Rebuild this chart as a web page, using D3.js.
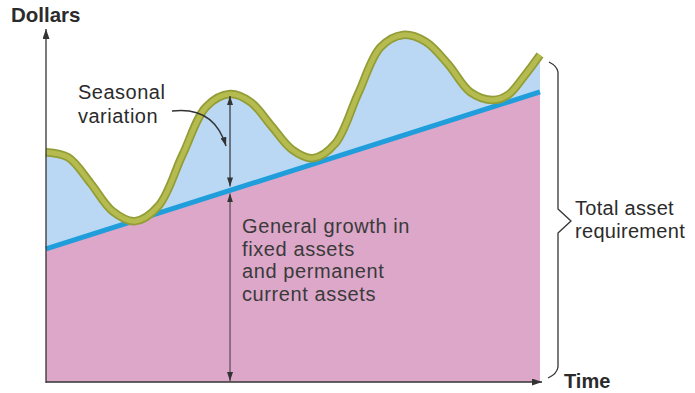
<!DOCTYPE html>
<html>
<head>
<meta charset="utf-8">
<script src="https://cdn.jsdelivr.net/npm/d3@7/dist/d3.min.js"></script>
<style>
  html, body { margin: 0; padding: 0; background: #ffffff; }
  svg { display: block; }
  text { font-family: "Liberation Sans", Arial, Helvetica, sans-serif; }
</style>
</head>
<body>
<svg id="chart" width="695" height="393"></svg>
<script>
// ---- data (time 0-100, dollars 0-100) ----
const time = [0, 4.50, 9.01, 13.51, 18.02,
              22.82, 27.63, 32.44, 37.25,
              41.45, 45.65, 49.85, 54.05,
              58.60, 63.16, 67.71, 72.27,
              76.82, 81.38, 85.93, 90.49,
              93.66, 96.82, 100];
const totalAssets = [65.3, 63.8, 56.5, 48.5, 45.7,
                     50.1, 64.5, 78.2, 81.8,
                     79.5, 72.7, 66.0, 63.6,
                     67.8, 81.8, 95.1, 98.6,
                     96.7, 90.3, 82.3, 80.1,
                     81.7, 86.9, 92.9];
const trendTime = [0, 100];
const permanentAssets = [37.8, 82.4];
const annotationTime = 37.25;   // seasonal peak used for the double arrows

const axisLabels = { y: "Dollars", x: "Time" };
const seasonalLabel = ["Seasonal", "variation"];
const growthLabel = ["General growth in", "fixed assets", "and permanent", "current assets"];
const totalLabel = ["Total asset", "requirement"];

// ---- layout ----
const svg = d3.select("#chart");
const x = d3.scaleLinear().domain([0, 100]).range([46, 540]);
const y = d3.scaleLinear().domain([0, 100]).range([382, 30]);
const trendAt = d3.scaleLinear().domain(trendTime).range(permanentAssets);

const wave = time.map((t, i) => ({ t, v: totalAssets[i] }));
const trend = trendTime.map((t, i) => ({ t, v: permanentAssets[i] }));

const ink = "#2b2b2b";
const curve = d3.curveCatmullRom.alpha(0.5);

// markers
const defs = svg.append("defs");
function marker(id, color, w, h) {
  defs.append("marker")
    .attr("id", id).attr("viewBox", `0 0 ${h} ${w}`)
    .attr("refX", h).attr("refY", w / 2)
    .attr("markerWidth", h).attr("markerHeight", w)
    .attr("markerUnits", "userSpaceOnUse")
    .attr("orient", "auto-start-reverse")
    .append("path").attr("d", `M0,0L${h},${w / 2}L0,${w}Z`).attr("fill", color);
}
marker("arr", "#333", 7, 10);
marker("arrSmall", "#333", 6, 9);

// seasonal (blue) area: wave down to baseline
svg.append("path").datum(wave)
  .attr("d", d3.area().x(d => x(d.t)).y0(y(0)).y1(d => y(d.v)).curve(curve))
  .attr("fill", "#bad8f4");

// permanent (pink) area
svg.append("path").datum(trend)
  .attr("d", d3.area().x(d => x(d.t)).y0(y(0)).y1(d => y(d.v)))
  .attr("fill", "#dca7c9");

// trend line
svg.append("path").datum(trend)
  .attr("d", d3.line().x(d => x(d.t)).y(d => y(d.v)))
  .attr("fill", "none").attr("stroke", "#1f9edb").attr("stroke-width", 5);

// wave stroke
const waveLine = d3.line().x(d => x(d.t)).y(d => y(d.v)).curve(curve);
svg.append("path").datum(wave).attr("d", waveLine)
  .attr("fill", "none").attr("stroke", "#939d36").attr("stroke-width", 8.5);
svg.append("path").datum(wave).attr("d", waveLine)
  .attr("fill", "none").attr("stroke", "#b5bb4e").attr("stroke-width", 5);

// axes
svg.append("line").attr("x1", x(0)).attr("y1", y(0) + 1).attr("x2", x(0)).attr("y2", 29)
  .attr("stroke", "#333").attr("stroke-width", 1.3).attr("marker-end", "url(#arr)");
svg.append("line").attr("x1", x(0)).attr("y1", y(0)).attr("x2", 542).attr("y2", y(0))
  .attr("stroke", "#333").attr("stroke-width", 1.6).attr("marker-end", "url(#arr)");

svg.append("text").attr("x", 11).attr("y", 22).attr("font-size", 20.5).attr("font-weight", "bold")
  .attr("fill", ink).text(axisLabels.y);
svg.append("text").attr("x", 564).attr("y", 388).attr("font-size", 20).attr("font-weight", "bold")
  .attr("fill", ink).text(axisLabels.x);

// double arrows
const ax = x(annotationTime);
const peakV = totalAssets[time.indexOf(annotationTime)];
svg.append("line").attr("x1", ax).attr("x2", ax)
  .attr("y1", y(trendAt(annotationTime)) - 4).attr("y2", y(peakV) + 2)
  .attr("stroke", "#333").attr("stroke-width", 1.2)
  .attr("marker-start", "url(#arrSmall)").attr("marker-end", "url(#arrSmall)");
svg.append("line").attr("x1", ax).attr("x2", ax)
  .attr("y1", y(0) - 1).attr("y2", y(trendAt(annotationTime)) + 3)
  .attr("stroke", "#444").attr("stroke-width", 1.1)
  .attr("marker-start", "url(#arrSmall)").attr("marker-end", "url(#arrSmall)");

// seasonal label + curved arrow
svg.append("text").attr("font-size", 20).attr("fill", ink).attr("letter-spacing", 0.5)
  .selectAll("tspan").data(seasonalLabel).join("tspan")
  .attr("x", 78).attr("y", (d, i) => 99 + i * 24).text(d => d);
svg.append("path").attr("d", `M172,111 Q214,106 ${ax - 4},${y(peakV) + 52}`)
  .attr("fill", "none").attr("stroke", "#333").attr("stroke-width", 1.4)
  .attr("marker-end", "url(#arrSmall)");

// growth label
svg.append("text").attr("font-size", 20).attr("fill", "#3a3a3a").attr("letter-spacing", 0.6)
  .selectAll("tspan").data(growthLabel).join("tspan")
  .attr("x", 242).attr("y", (d, i) => 233 + i * 22.7).text(d => d);

// brace
svg.append("path")
  .attr("d", "M549,62 Q557,66 558,72 L558,209 L571,221 L558,233 L558,367 Q557,374 548,378")
  .attr("fill", "none").attr("stroke", "#333").attr("stroke-width", 1.3)
  .attr("stroke-linejoin", "round");
svg.append("text").attr("font-size", 20).attr("fill", ink).attr("letter-spacing", 0.3)
  .selectAll("tspan").data(totalLabel).join("tspan")
  .attr("x", 575).attr("y", (d, i) => 215 + i * 23).text(d => d);
</script>
</body>
</html>
